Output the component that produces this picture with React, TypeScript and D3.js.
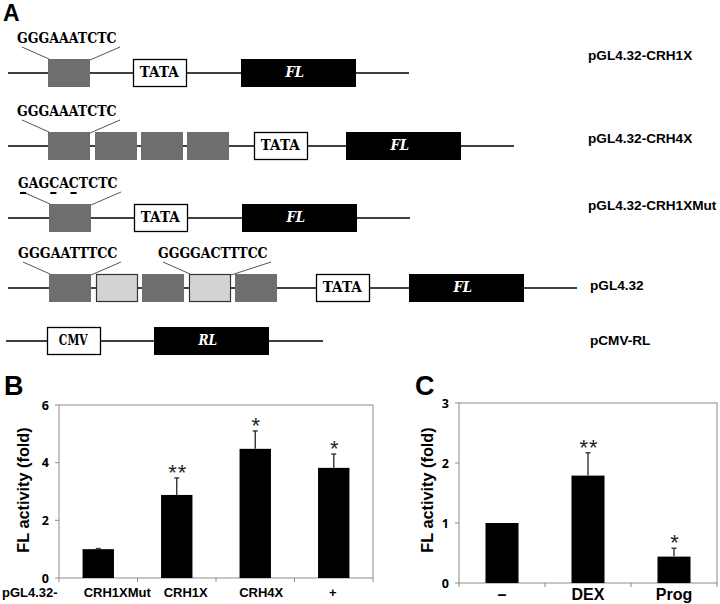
import React from "react";
import * as d3 from "d3";

// ---------- Panel A: construct schematics ----------
const constructNames = ["pGL4.32-CRH1X", "pGL4.32-CRH4X", "pGL4.32-CRH1XMut", "pGL4.32", "pCMV-RL"];
const constructParts = [
  ["site", "TATA", "FL"],
  ["site", "site", "site", "site", "TATA", "FL"],
  ["site", "TATA", "FL"],
  ["site", "kb", "site", "kb", "site", "TATA", "FL"],
  ["CMV", "RL"],
];
// nominal schematic coordinates of each element's start
const partStarts = [
  [48, 133, 241],
  [48, 95, 141, 187, 254, 346],
  [49, 134, 242],
  [49, 96, 142, 189, 235, 316, 409],
  [47, 154],
];
const backboneSpan = [
  [8, 409],
  [8, 514],
  [8, 410],
  [8, 577],
  [6, 323],
];
const siteSeqRow = [0, 1, 2, 3, 3];
const siteSeqPart = [0, 0, 0, 0, 3];
const siteSeqs = ["GGGAAATCTC", "GGGAAATCTC", "GAGCACTCTC", "GGGAATTTCC", "GGGGACTTTCC"];
const mutatedIdx = [[], [], [0, 3, 5], [], []];

// ---------- Panel B ----------
const bCats = ["CRH1XMut", "CRH1X", "CRH4X", "+"];
const bVals = [1.0, 2.88, 4.48, 3.82];
const bErr = [0.02, 0.59, 0.62, 0.48];
const bStars = ["", "**", "*", "*"];
const bTicks = [0, 2, 4, 6];

// ---------- Panel C ----------
const cCats = ["\u2013", "DEX", "Prog"];
const cVals = [1.0, 1.79, 0.44];
const cErr = [0.0, 0.38, 0.14];
const cStars = ["", "**", "*"];
const cTicks = [0, 1, 2, 3];

const W = 720;
const H = 604;
const SANS = "'Liberation Sans', Arial, sans-serif";
const NARROW = "'Open Sans', 'Liberation Sans', sans-serif";
const SLAB = "'DejaVu Serif', 'Liberation Serif', serif";

const partWidth: Record<string, number> = { site: 42, kb: 42, TATA: 54, FL: 115, CMV: 54, RL: 115 };
const rowY = [73, 146, 218, 288, 341];
const labelY = [60, 143, 210, 290, 345];
const labelX = [588, 588, 588, 590, 590];
const CHAR_W = 10.1;

function Mono(props: { x: number; y: number; text: string; anchor?: string; fill?: string; italic?: boolean }) {
  const len = props.text.length * CHAR_W;
  const x = props.anchor === "middle" ? props.x - len / 2 : props.x;
  return (
    <text
      x={x}
      y={props.y}
      textLength={len - 1.5}
      lengthAdjust="spacingAndGlyphs"
      fontFamily={SLAB}
      fontWeight="bold"
      fontStyle={props.italic ? "italic" : "normal"}
      fontSize={14.5}
      fill={props.fill || "#000"}
    >
      {props.text}
    </text>
  );
}

function PanelA() {
  const x = d3.scaleLinear().domain([0, W]).range([0, W]);
  return (
    <g>
      <text x={3} y={21} fontFamily={SANS} fontWeight="bold" fontSize={23}>A</text>
      {constructParts.map((parts, r) => {
        const y = rowY[r];
        return (
          <g key={r}>
            <line x1={x(backboneSpan[r][0])} x2={x(backboneSpan[r][1])} y1={y} y2={y} stroke="#000" strokeWidth={1.6} />
            {parts.map((p, i) => {
              const x0 = x(partStarts[r][i]);
              const w = x(partStarts[r][i] + partWidth[p]) - x0;
              const top = y - 14;
              if (p === "site")
                return <rect key={i} x={x0} y={top} width={w} height={28} fill="#6e6e6e" />;
              if (p === "kb")
                return <rect key={i} x={x0 + 0.5} y={top + 0.5} width={w - 1} height={27} fill="#d3d3d3" stroke="#333" strokeWidth={1.2} />;
              if (p === "TATA" || p === "CMV")
                return (
                  <g key={i}>
                    <rect x={x0 + 0.5} y={top + 0.5} width={w - 1} height={27} fill="#fff" stroke="#000" strokeWidth={1.3} />
                    <Mono x={x0 + w / 2} y={y + 4} text={p} anchor="middle" />
                  </g>
                );
              return (
                <g key={i}>
                  <rect x={x0} y={top} width={w} height={28} fill="#000" />
                  <Mono x={x0 + w / 2 - 3} y={y + 4} text={p} anchor="middle" fill="#fff" italic />
                </g>
              );
            })}
            <text x={labelX[r]} y={labelY[r]} fontFamily={SANS} fontWeight="bold" fontSize={13.6}>{constructNames[r]}</text>
          </g>
        );
      })}
      {siteSeqs.map((s, k) => {
        const r = siteSeqRow[k];
        const pi = siteSeqPart[k];
        const bx0 = x(partStarts[r][pi]);
        const bx1 = x(partStarts[r][pi] + partWidth[constructParts[r][pi]]);
        const top = rowY[r] - 14;
        const base = top - 16;
        const tx = bx0 - 31;
        const tw = s.length * CHAR_W;
        return (
          <g key={k}>
            <Mono x={tx} y={base} text={s} />
            <line x1={tx + 5} y1={base + 4} x2={bx0 + 1} y2={top} stroke="#555" strokeWidth={1} />
            <line x1={tx + tw + 2} y1={base + 4} x2={bx1} y2={top + 1} stroke="#555" strokeWidth={1} />
            {mutatedIdx[k].map((ci) => (
              <line key={ci} x1={tx + ci * CHAR_W + 2} x2={tx + (ci + 1) * CHAR_W - 2} y1={base + 5} y2={base + 5} stroke="#000" strokeWidth={2} />
            ))}
          </g>
        );
      })}
    </g>
  );
}

type BarProps = {
  cats: string[];
  vals: number[];
  err: number[];
  stars: string[];
  ticks: number[];
  x0: number;
  x1: number;
  y0: number;
  y1: number;
  pIn: number;
  pOut: number;
};

function BarPanel(p: BarProps) {
  const x = d3.scaleBand<string>().domain(p.cats).range([p.x0, p.x1]).paddingInner(p.pIn).paddingOuter(p.pOut);
  const y = d3.scaleLinear().domain([0, p.ticks[p.ticks.length - 1]]).range([p.y0, p.y1]);
  const tickXs = d3.range(p.cats.length + 1).map((i) => p.x0 + ((p.x1 - p.x0) * i) / p.cats.length);
  return (
    <g>
      <rect x={p.x0} y={p.y1} width={p.x1 - p.x0} height={p.y0 - p.y1} fill="#fff" stroke="#8c8c8c" strokeWidth={1} />
      {p.ticks.map((t) => (
        <g key={t}>
          <line x1={p.x0 - 4} x2={p.x0} y1={y(t)} y2={y(t)} stroke="#8c8c8c" />
          <text x={p.x0 - 10} y={y(t) + 4.5} textAnchor="end" fontFamily={NARROW} fontWeight="bold" fontSize={12.5}>{t}</text>
        </g>
      ))}
      {tickXs.map((tx, i) => (
        <line key={i} x1={tx} x2={tx} y1={p.y0} y2={p.y0 + 4} stroke="#8c8c8c" />
      ))}
      {p.cats.map((c, i) => {
        const bx = x(c) as number;
        const cx = bx + x.bandwidth() / 2;
        const top = y(p.vals[i]);
        const et = y(p.vals[i] + p.err[i]);
        return (
          <g key={c}>
            <rect x={bx} y={top} width={x.bandwidth()} height={p.y0 - top} fill="#000" />
            {p.err[i] > 0 && (
              <g stroke="#333" strokeWidth={1.4}>
                <line x1={cx} x2={cx} y1={top} y2={et} />
                <line x1={cx - 2.5} x2={cx + 2.5} y1={et} y2={et} />
              </g>
            )}
            {p.stars[i] && (
              <text x={cx + 1} y={et + 2} textAnchor="middle" fontFamily={SANS} fontSize={22} letterSpacing={1} fill="#222">{p.stars[i]}</text>
            )}
          </g>
        );
      })}
    </g>
  );
}

const bLabelOffset = [19, 9, 6, -1];

export default function App() {
  const bx = d3.scaleBand<string>().domain(bCats).range([59, 373]).paddingInner(0.6).paddingOuter(0.3);
  const cx = d3.scaleBand<string>().domain(cCats).range([459, 717]).paddingInner(0.616).paddingOuter(0.308);
  return (
    <svg width={W} height={H} style={{ position: "absolute", left: 0, top: 0, background: "#fff" }}>
      <rect width={W} height={H} fill="#fff" />
      <PanelA />
      {/* Panel B */}
      <text x={4} y={395} fontFamily={SANS} fontWeight="bold" fontSize={27}>B</text>
      <BarPanel cats={bCats} vals={bVals} err={bErr} stars={bStars} ticks={bTicks} x0={59} x1={373} y0={578} y1={405} pIn={0.6} pOut={0.3} />
      <text transform="translate(29,490) rotate(-90)" textAnchor="middle" fontFamily={SANS} fontWeight="bold" fontSize={16.3}>FL activity (fold)</text>
      <text x={2} y={597} fontFamily={SANS} fontWeight="bold" fontSize={13}>pGL4.32-</text>
      {bCats.map((c, i) => (
        <text key={c} x={(bx(c) as number) + bx.bandwidth() / 2 + bLabelOffset[i]} y={597} textAnchor="middle" fontFamily={SANS} fontWeight="bold" fontSize={13}>{c}</text>
      ))}
      {/* Panel C */}
      <text x={415} y={395} fontFamily={SANS} fontWeight="bold" fontSize={27}>C</text>
      <BarPanel cats={cCats} vals={cVals} err={cErr} stars={cStars} ticks={cTicks} x0={459} x1={717} y0={583} y1={403} pIn={0.616} pOut={0.308} />
      <text transform="translate(433,490) rotate(-90)" textAnchor="middle" fontFamily={SANS} fontWeight="bold" fontSize={16.3}>FL activity (fold)</text>
      {cCats.map((c) => (
        <text key={c} x={(cx(c) as number) + cx.bandwidth() / 2} y={600} textAnchor="middle" fontFamily={SANS} fontWeight="bold" fontSize={16}>{c}</text>
      ))}
    </svg>
  );
}
